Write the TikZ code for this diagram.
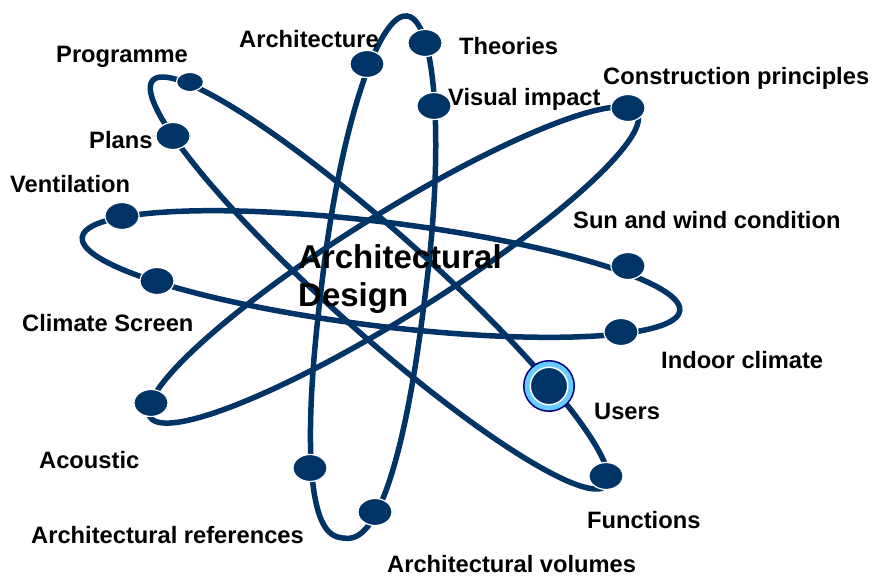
\documentclass[tikz,border=0pt]{standalone}
\usepackage{fontspec}
\setmainfont{Liberation Sans}
\usetikzlibrary{shapes.geometric}
\definecolor{navy}{RGB}{0,51,102}
\definecolor{ringfill}{RGB}{102,204,255}
\definecolor{ringline}{RGB}{0,0,128}
% orbit: cx cy a b theta npos nneg (image coordinates, y down; n = superellipse exponent per half)
\newcommand\orbitdraw[7]{%
  \draw[orbitline,declare function={%
      oN(\t)=(cos(\t)>0)?#6:#7;
      oa(\t)=#3*cos(\t)*pow(max(abs(cos(\t)),0.0001),2/oN(\t)-1);
      ob(\t)=#4*sin(\t)*pow(max(abs(sin(\t)),0.0001),2/oN(\t)-1);}]
    plot[domain=0:356,samples=90,smooth cycle]
    ({#1+oa(\x)*cos(#5)-ob(\x)*sin(#5)},{#2+oa(\x)*sin(#5)+ob(\x)*cos(#5)});}
\begin{document}
\begin{tikzpicture}[x=1pt,y=-1pt,
  orbitline/.style={draw=navy,line width=5.5pt},
  dot/.style={ellipse,fill=navy,draw=white,line width=1.2pt,inner sep=0pt,minimum width=34pt,minimum height=27pt},
  smalldot/.style={dot,minimum width=27pt,minimum height=19pt},
  lbl/.style={font=\bfseries\fontsize{23.7}{28}\selectfont,inner sep=0pt,anchor=base west,text=black},
  titlelbl/.style={font=\bfseries\fontsize{33}{38}\selectfont,inner sep=0pt,anchor=north west,align=left,text=black},
  ringnode/.style={circle,fill=ringfill,draw=ringline,line width=1.5pt,minimum size=50.5pt,inner sep=0pt},
  ringcore/.style={circle,fill=navy,draw=white,line width=1.5pt,minimum size=37.5pt,inner sep=0pt}]
\useasboundingbox (0,0) rectangle (873,577);
\fill[white] (0,0) rectangle (873,577);
% orbits
\orbitdraw{381}{274}{301}{52}{7}{2}{2}
\orbitdraw{379.3}{283}{304}{50}{41.8}{2}{2}
\orbitdraw{393.5}{265}{287}{51}{-32}{2}{2}
\orbitdraw{375}{277}{263}{52}{97}{2.5}{2}
% dots
\node[dot] (vent) at (122,216) {};
\node[dot] (clim) at (157,281) {};
\node[dot] (sun) at (628,266) {};
\node[dot] (indoor) at (621,332) {};
\node[smalldot] (prog) at (190,82) {};
\node[dot] (plans) at (173,136) {};
\node[dot] (func) at (606,476) {};
\node[dot] (cons) at (628,108) {};
\node[dot] (acou) at (151,403) {};
\node[dot] (arch) at (367,64) {};
\node[dot] (theo) at (425,43) {};
\node[dot] (vis) at (434,106) {};
\node[dot] (aref) at (310,468) {};
\node[dot] (avol) at (375,512) {};
\node[ringnode] (usersring) at (549,386) {};
\node[ringcore] (users) at (549,386) {};
% labels
\node[lbl] (l-prog) at (56,63) {Programme};
\node[lbl] (l-arch) at (239,48) {Architecture};
\node[lbl] (l-theo) at (459,55) {Theories};
\node[lbl] (l-cons) at (603,85) {Construction principles};
\node[lbl] (l-vis) at (448,106) {Visual impact};
\node[lbl] (l-plans) at (89,149) {Plans};
\node[lbl] (l-vent) at (10,193) {Ventilation};
\node[lbl] (l-sun) at (573,229) {Sun and wind condition};
\node[lbl] (l-clim) at (22,331) {Climate Screen};
\node[lbl] (l-indoor) at (661,368) {Indoor climate};
\node[lbl] (l-users) at (594,419) {Users};
\node[lbl] (l-acou) at (39,468) {Acoustic};
\node[lbl] (l-func) at (587,528) {Functions};
\node[lbl] (l-aref) at (31,543) {Architectural references};
\node[lbl] (l-avol) at (387,572) {Architectural volumes};
\node[titlelbl] (title) at (298,244) {Architectural\\Design};
\end{tikzpicture}
\end{document}
